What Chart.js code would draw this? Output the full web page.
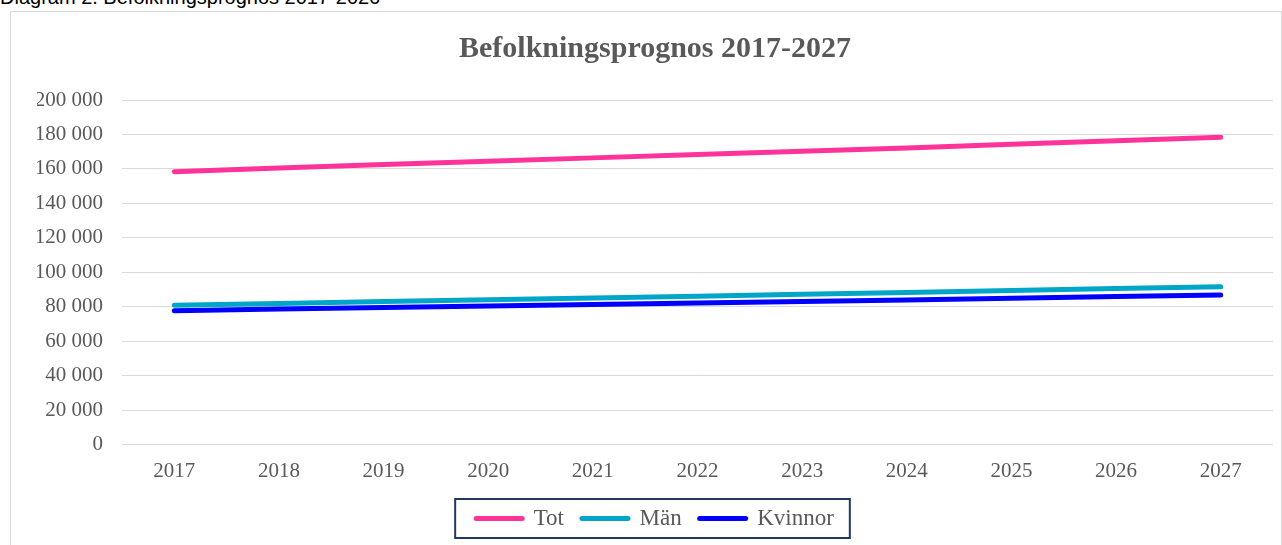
<!DOCTYPE html>
<html>
<head>
<meta charset="utf-8">
<script src="https://cdn.jsdelivr.net/npm/chart.js@4"></script>
<style>
  body { margin: 0; background: #fff; overflow: hidden; }
  #caption {
    position: absolute; left: 0; top: -13px;
    font: 20px "Liberation Sans", Arial, sans-serif; line-height: 20px; color: #000;
    white-space: nowrap;
  }
  #box {
    position: absolute; left: 10px; top: 11px; width: 1270px; height: 540px;
    border: 1px solid #d9d9d9; border-bottom: none;
  }
</style>
</head>
<body>
<div id="caption">Diagram 2. Befolkningsprognos 2017-2026</div>
<div id="box"><canvas id="prognos" width="1270" height="534"></canvas></div>
<script>
const years = ["2017", "2018", "2019", "2020", "2021", "2022", "2023", "2024", "2025", "2026", "2027"];
const tot = [158400, 160500, 162500, 164500, 166400, 168300, 170200, 172200, 174300, 176400, 178400];
const man = [80800, 81900, 83000, 84100, 85100, 86100, 87200, 88300, 89400, 90500, 91600];
const kvinnor = [77600, 78600, 79500, 80400, 81300, 82200, 83000, 83900, 84900, 85900, 86800];
const yTicks = [0, 20000, 40000, 60000, 80000, 100000, 120000, 140000, 160000, 180000, 200000];

const serif = "'Liberation Serif', 'Times New Roman', serif";
const grey = "#595959";
Chart.defaults.font.family = serif;

// ram runt förklaringen
const legendFrame = {
  id: "legendFrame",
  afterDraw(chart) {
    const boxes = chart.legend.legendHitBoxes;
    if (!boxes || !boxes.length) return;
    const first = boxes[0];
    const last = boxes[boxes.length - 1];
    const ctx = chart.ctx;
    ctx.save();
    ctx.strokeStyle = "#1f3864";
    ctx.lineWidth = 2;
    const x0 = first.left - 21;
    const x1 = last.left + last.width + 16;
    const cy = first.top + first.height / 2;
    ctx.strokeRect(x0, cy - 19.5, x1 - x0, 39);
    ctx.restore();
  },
};

const mkSet = (label, data, color) => ({
  label: label,
  data: data,
  borderColor: color,
  backgroundColor: color,
  borderWidth: 5,
  borderCapStyle: "round",
  pointRadius: 0,
  pointStyle: "line",
  tension: 0,
});

new Chart(document.getElementById("prognos"), {
  type: "line",
  data: {
    labels: years,
    datasets: [
      mkSet("Tot", tot, "#ff3399"),
      mkSet("Män", man, "#00a6c8"),
      mkSet("Kvinnor", kvinnor, "#0000ff"),
    ],
  },
  options: {
    responsive: false,
    animation: false,
    layout: { padding: { left: 26, right: 8, top: 0, bottom: 6 } },
    plugins: {
      title: {
        display: true,
        text: "Befolkningsprognos 2017-2027",
        color: grey,
        font: { family: serif, size: 30, weight: "bold" },
        padding: { top: 19, bottom: 33 },
      },
      legend: {
        position: "bottom",
        labels: {
          usePointStyle: true,
          pointStyle: "line",
          pointStyleWidth: 46,
          boxWidth: 46,
          boxHeight: 5,
          padding: 18,
          color: grey,
          font: { family: serif, size: 23 },
          generateLabels: (chart) =>
            Chart.defaults.plugins.legend.labels.generateLabels(chart).map((item) => ({
              ...item,
              lineCap: "round",
              lineWidth: 5,
            })),
        },
      },
      tooltip: { enabled: false },
    },
    scales: {
      x: {
        offset: true,
        afterFit: (s) => { s.height = 44.5; },
        grid: { display: false, drawTicks: false },
        border: { display: false },
        ticks: { color: grey, font: { family: serif, size: 21 }, padding: 14, maxRotation: 0 },
      },
      y: {
        min: 0,
        max: 200000,
        afterFit: (s) => { s.width = 85; },
        afterBuildTicks: (s) => { s.ticks = yTicks.map((v) => ({ value: v })); },
        grid: { color: "#d9d9d9", lineWidth: 1, drawTicks: false },
        border: { display: false },
        ticks: {
          color: grey,
          font: { family: serif, size: 21 },
          padding: 19,
          callback: (v) => String(v).replace(/\B(?=(\d{3})+(?!\d))/g, " "),
        },
      },
    },
  },
  plugins: [legendFrame],
});
</script>
</body>
</html>
